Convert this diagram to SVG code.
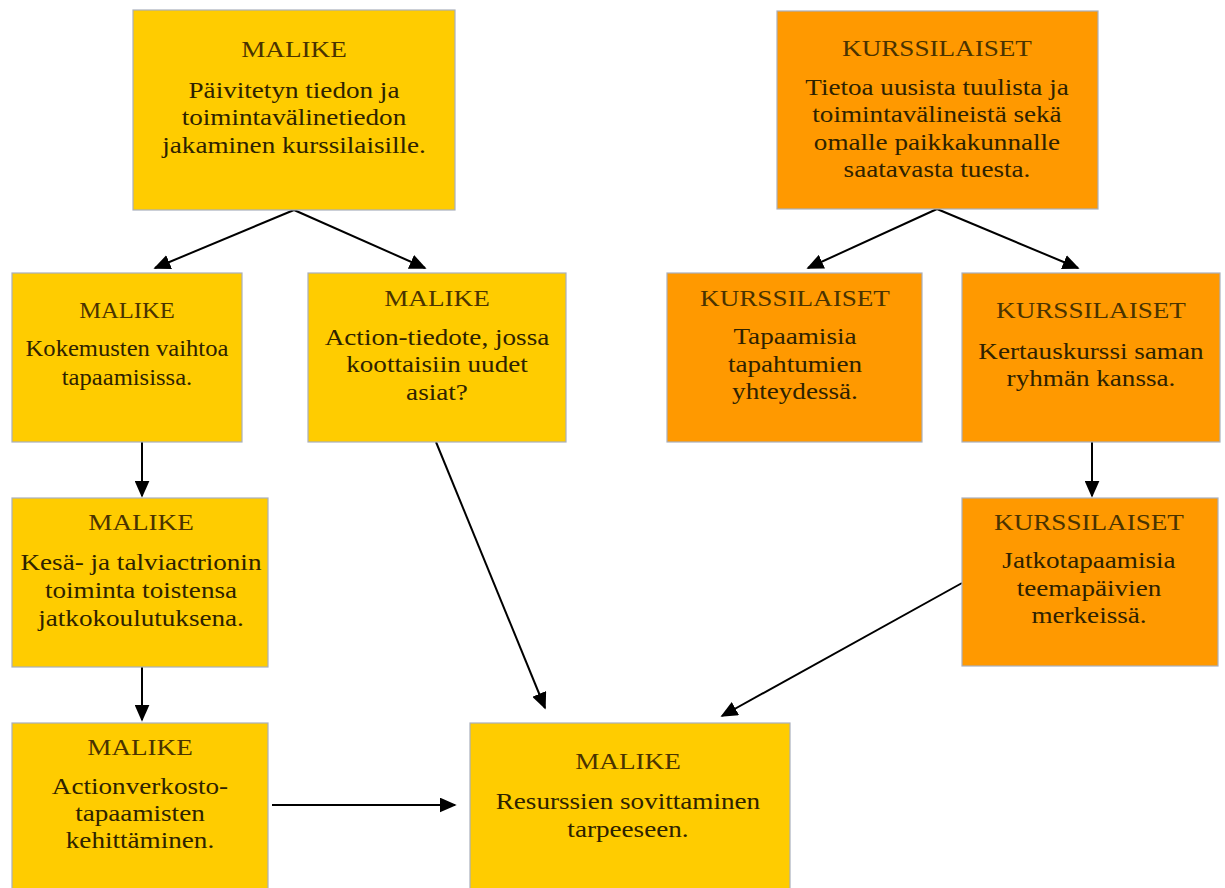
<svg xmlns="http://www.w3.org/2000/svg" width="1225" height="888" viewBox="0 0 1225 888">
<defs>
<style>
.y{fill:#FFCC00;stroke:#a9b0bd;stroke-width:1.2}
.o{fill:#FF9900;stroke:#a9b0bd;stroke-width:1.2}
text{font-family:"Liberation Serif","Times New Roman",serif;font-size:23px;fill:#2e2200;text-anchor:middle;transform-box:fill-box;transform-origin:center;transform:scaleX(1.18)}
#nC text{transform:scaleX(1.07)}
.t{fill:#4a3300}
.c{stroke:#000;stroke-width:2;fill:none;marker-end:url(#ah)}
</style>
<marker id="ah" viewBox="0 0 10 10" refX="9" refY="5" markerWidth="17" markerHeight="15" markerUnits="userSpaceOnUse" orient="auto" preserveAspectRatio="none">
<path d="M0,0 L10,5 L0,10 z" fill="#000"/>
</marker>
</defs>
<rect width="1225" height="888" fill="#fff"/>
<g id="connectors">
<line class="c" x1="294" y1="210" x2="155" y2="268"/>
<line class="c" x1="294" y1="210" x2="425" y2="268"/>
<line class="c" x1="937" y1="209" x2="808" y2="268"/>
<line class="c" x1="937" y1="209" x2="1078" y2="268"/>
<line class="c" x1="142" y1="442" x2="142" y2="496"/>
<line class="c" x1="142" y1="667" x2="142" y2="720"/>
<line class="c" x1="1092" y1="442" x2="1092" y2="496"/>
<line class="c" x1="436" y1="442" x2="545" y2="708"/>
<line class="c" x1="962" y1="583" x2="722" y2="716"/>
<line class="c" x1="272" y1="805" x2="455" y2="805"/>
</g>
<g id="nA">
<rect class="y" x="133" y="10" width="322" height="200"/>
<text class="t" x="294" y="57">MALIKE</text>
<text x="294" y="98">Päivitetyn tiedon ja</text>
<text x="294" y="125">toimintavälinetiedon</text>
<text x="294" y="153">jakaminen kurssilaisille.</text>
</g>
<g id="nB">
<rect class="o" x="777" y="11" width="321" height="198"/>
<text class="t" x="937" y="56">KURSSILAISET</text>
<text x="937" y="95">Tietoa uusista tuulista ja</text>
<text x="937" y="122">toimintavälineistä sekä</text>
<text x="937" y="150">omalle paikkakunnalle</text>
<text x="937" y="177">saatavasta tuesta.</text>
</g>
<g id="nC">
<rect class="y" x="12" y="273" width="230" height="169"/>
<text class="t" x="127" y="318">MALIKE</text>
<text x="127" y="356">Kokemusten vaihtoa</text>
<text x="127" y="385">tapaamisissa.</text>
</g>
<g id="nD">
<rect class="y" x="308" y="273" width="258" height="169"/>
<text class="t" x="437" y="306">MALIKE</text>
<text x="437" y="345">Action-tiedote, jossa</text>
<text x="437" y="372">koottaisiin uudet</text>
<text x="437" y="400">asiat?</text>
</g>
<g id="nE">
<rect class="o" x="667" y="273" width="255" height="169"/>
<text class="t" x="795" y="306">KURSSILAISET</text>
<text x="795" y="344">Tapaamisia</text>
<text x="795" y="372">tapahtumien</text>
<text x="795" y="399">yhteydessä.</text>
</g>
<g id="nF">
<rect class="o" x="962" y="273" width="258" height="169"/>
<text class="t" x="1091" y="318">KURSSILAISET</text>
<text x="1091" y="359">Kertauskurssi saman</text>
<text x="1091" y="386">ryhmän kanssa.</text>
</g>
<g id="nG">
<rect class="y" x="12" y="498" width="256" height="169"/>
<text class="t" x="141" y="530">MALIKE</text>
<text x="141" y="570">Kesä- ja talviactrionin</text>
<text x="141" y="598">toiminta toistensa</text>
<text x="141" y="626">jatkokoulutuksena.</text>
</g>
<g id="nH">
<rect class="o" x="962" y="498" width="256" height="168"/>
<text class="t" x="1089" y="530">KURSSILAISET</text>
<text x="1089" y="568">Jatkotapaamisia</text>
<text x="1089" y="596">teemapäivien</text>
<text x="1089" y="623">merkeissä.</text>
</g>
<g id="nI">
<rect class="y" x="12" y="723" width="256" height="170"/>
<text class="t" x="140" y="755">MALIKE</text>
<text x="140" y="794">Actionverkosto-</text>
<text x="140" y="821">tapaamisten</text>
<text x="140" y="848">kehittäminen.</text>
</g>
<g id="nJ">
<rect class="y" x="470" y="723" width="320" height="170"/>
<text class="t" x="628" y="769">MALIKE</text>
<text x="628" y="809">Resurssien sovittaminen</text>
<text x="628" y="837">tarpeeseen.</text>
</g>
</svg>
